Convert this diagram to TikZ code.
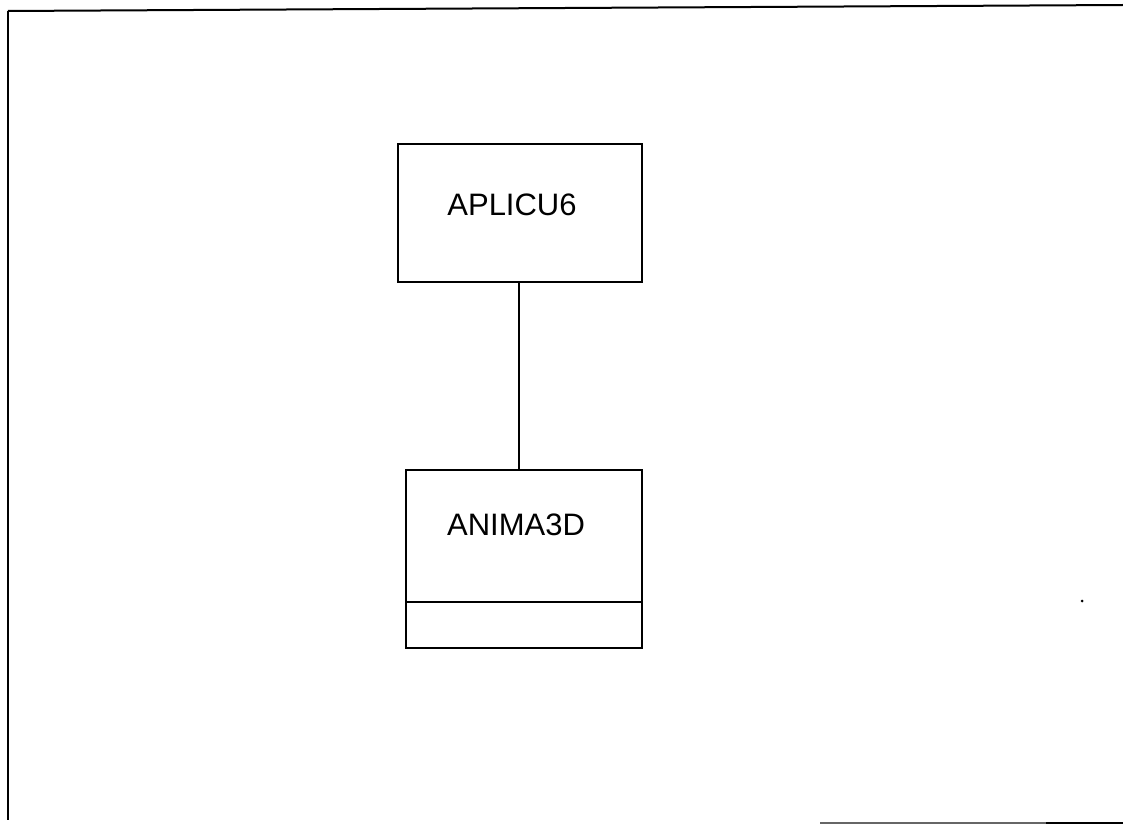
\documentclass[tikz,border=0pt]{standalone}
\usepackage{fontspec}
\setmainfont{Liberation Sans}
\begin{document}
\begin{tikzpicture}[x=1pt,y=-1pt,
  frame/.style={line width=2pt,black},
  boxstyle/.style={draw,line width=1.6pt},
  label/.style={font=\fontsize{31}{36}\selectfont,inner sep=0pt}]
\useasboundingbox (0,0) rectangle (1123,824);
% outer frame
\draw[frame] (8,11) -- (1123,5);
\draw[frame] (8,11) -- (8,820);
\draw[line width=1.2pt,black!60] (820,823) -- (1046,823);
\draw[frame] (1046,823) -- (1123,823);
% boxes
\node[boxstyle,minimum width=244pt,minimum height=138pt,anchor=north west,inner sep=0pt] (aplicu) at (397,143) {};
\node[label] (aplicutxt) at (512,205) {APLICU6};
\node[boxstyle,minimum width=236pt,minimum height=178pt,anchor=north west,inner sep=0pt] (anima) at (405,469) {};
\node[label] (animatxt) at (516,525) {ANIMA3D};
\coordinate (divL) at (405,602);
\coordinate (divR) at (641,602);
\draw[line width=1.6pt] (divL) -- (divR);
% connector
\draw[line width=1.6pt] (aplicu.south -| 519,0) -- (anima.north -| 519,0);
% stray dot
\fill (1082,601) circle (1.5pt);
\end{tikzpicture}
\end{document}
